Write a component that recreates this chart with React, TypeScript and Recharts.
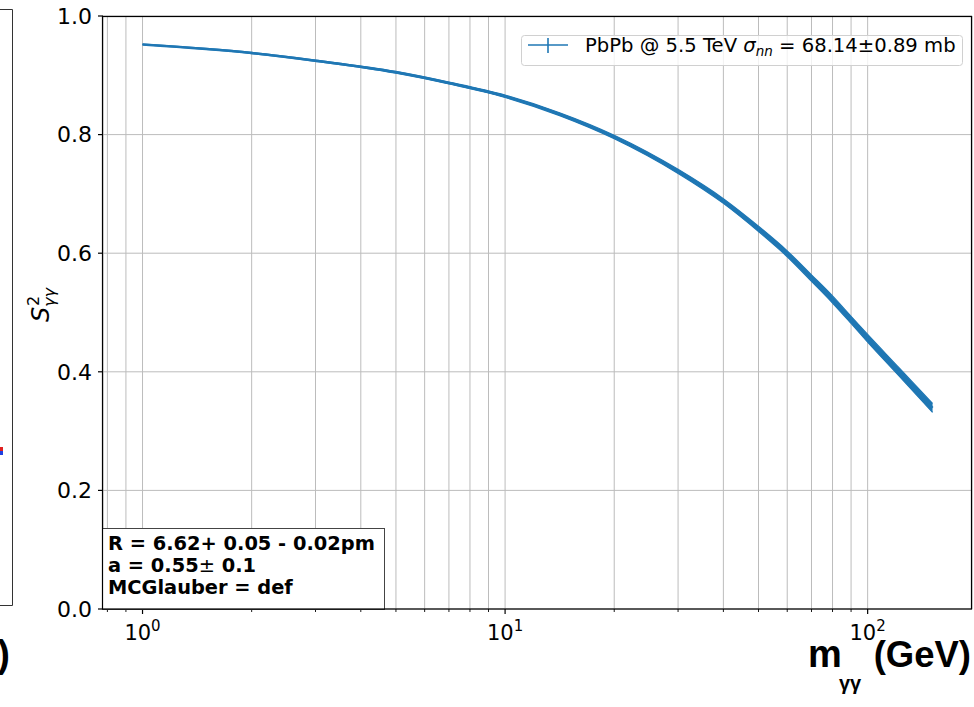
import React from "react";
import { ComposedChart, Area, Line, XAxis, YAxis, CartesianGrid } from "recharts";

// m_γγ (GeV) and the survival factor S²_γγ
const massGeV = [1, 2, 3, 5, 7, 10, 14.2, 20, 30, 40, 50, 60, 70, 80, 90, 100, 122, 151];
const survival = [0.952, 0.9376, 0.9246, 0.905, 0.887, 0.8646, 0.834, 0.796, 0.738, 0.688, 0.641, 0.599, 0.558, 0.522, 0.4875, 0.4565, 0.4, 0.339];
const spread = [0.0005, 0.001, 0.001, 0.0015, 0.0015, 0.002, 0.0025, 0.003, 0.0035, 0.004, 0.0045, 0.005, 0.0055, 0.006, 0.006, 0.0065, 0.007, 0.0075];

const xTicks = [0.8, 0.9, 1, 2, 3, 4, 5, 6, 7, 8, 9, 10, 20, 30, 40, 50, 60, 70, 80, 90, 100];
const xMajor = [1, 10, 100];
const yTicks = [0, 0.2, 0.4, 0.6, 0.8, 1.0];

const legendLabel = "PbPb @ 5.5 TeV ";
const boxLines = ["R = 6.62+ 0.05 - 0.02pm", "a = 0.55", "MCGlauber = def"];

const data = massGeV.map((m, i) => ({
  m,
  s2: survival[i],
  band: [survival[i] - spread[i], survival[i] + spread[i]],
}));

const BLUE = "#1f77b4";
const MPL = "DejaVu Sans, sans-serif";

function LogTick(props: any) {
  const { x, y, payload } = props;
  const v = payload.value;
  const major = xMajor.includes(v);
  return (
    <g>
      <line x1={x} x2={x} y1={y} y2={y + (major ? 5 : 3)} stroke="#000" strokeWidth={major ? 1.2 : 0.9} />
      {major && (
        <text x={x} y={y + 31} textAnchor="middle" fontFamily={MPL} fontSize={21} fill="#000">
          10
          <tspan dy={-9} fontSize={15}>
            {Math.round(Math.log10(v))}
          </tspan>
        </text>
      )}
    </g>
  );
}

function Overlay() {
  return (
    <svg
      width={974}
      height={707}
      style={{ position: "absolute", left: 0, top: 0, pointerEvents: "none" }}
    >
      {/* edge of the neighbouring panel, cut off on the left */}
      <line x1={0} x2={12.5} y1={9.5} y2={9.5} stroke="#333" />
      <line x1={12.5} x2={12.5} y1={9.5} y2={605.5} stroke="#333" />
      <line x1={0} x2={12.5} y1={605.5} y2={605.5} stroke="#333" />
      <rect x={0} y={447} width={3} height={4} fill="#e02020" />
      <rect x={0} y={451} width={3} height={4} fill="#2040e0" />
      <text x={10} y={667} textAnchor="end" fontFamily="Liberation Sans, Arial" fontWeight="bold" fontSize={38} fill="#000">
        )
      </text>

      {/* annotation box */}
      <rect x={102.5} y={528.5} width={282} height={81} fill="#fff" stroke="#444" strokeWidth={1} />
      <g fontFamily={MPL} fontWeight="bold" fontSize={19.4} fill="#000">
        <text x={108} y={550}>{boxLines[0]}</text>
        <text x={108} y={572}>
          {boxLines[1]}
          <tspan fontWeight="normal">±</tspan> 0.1
        </text>
        <text x={108} y={594}>{boxLines[2]}</text>
      </g>

      {/* legend */}
      <rect x={521.5} y={35.5} width={441} height={30} rx={3} fill="#fff" fillOpacity={0.8} stroke="#d0d0d0" />
      <line x1={528} x2={568} y1={45} y2={45} stroke={BLUE} strokeWidth={1.6} />
      <line x1={548} x2={548} y1={38} y2={53} stroke={BLUE} strokeWidth={1.6} />
      <text x={585} y={52} fontFamily={MPL} fontSize={19.6} fill="#000">
        {legendLabel}
        <tspan fontStyle="italic">σ</tspan>
        <tspan fontStyle="italic" fontSize={13.5} dy={4}>nn</tspan>
        <tspan dy={-4}> = 68.14±0.89 mb</tspan>
      </text>

      {/* frame */}
      <rect x={102.5} y={16.5} width={869} height={592.5} fill="none" stroke="#000" strokeWidth={1.2} />

      {/* y label */}
      <g transform="translate(41,300) rotate(-90)" fontFamily={MPL} fill="#000">
        <text x={-22} y={8} fontSize={24} fontStyle="italic">S</text>
        <text x={-6} y={-2} fontSize={16}>2</text>
        <text x={-7} y={14} fontSize={16} fontStyle="italic">γγ</text>
      </g>

      {/* x label */}
      <g fontFamily="Liberation Sans, Arial, sans-serif" fontWeight="bold" fill="#000">
        <text x={808} y={667} fontSize={38}>m</text>
        <text x={839} y={690} fontSize={20}>γγ</text>
        <text x={971} y={667} fontSize={36.5} textAnchor="end">(GeV)</text>
      </g>
    </svg>
  );
}

export default function App() {
  return (
    <div style={{ position: "absolute", left: 0, top: 0, width: 974, height: 707, background: "#fff" }}>
      <ComposedChart width={974} height={707} data={data} margin={{ top: 16, right: 2, left: 0, bottom: 0 }}>
        <CartesianGrid stroke="#bcbcbc" strokeWidth={1} />
        <XAxis
          dataKey="m"
          type="number"
          scale="log"
          domain={[0.778, 194]}
          allowDataOverflow
          ticks={xTicks}
          interval={0}
          height={98}
          axisLine={false}
          tickLine={false}
          tickSize={0}
          tickMargin={0}
          tick={<LogTick />}
        />
        <YAxis
          type="number"
          domain={[0, 1]}
          ticks={yTicks}
          width={103}
          axisLine={false}
          tickSize={5}
          tickMargin={6}
          tickLine={{ stroke: "#000", strokeWidth: 1.2 }}
          tickFormatter={(v: number) => v.toFixed(1)}
          tick={{ fontFamily: MPL, fontSize: 22, fill: "#000" }}
        />
        <Area
          dataKey="band"
          type="monotone"
          stroke={BLUE}
          strokeWidth={1.2}
          fill={BLUE}
          fillOpacity={1}
          isAnimationActive={false}
        />
        <Line
          dataKey="s2"
          type="monotone"
          stroke={BLUE}
          strokeWidth={2.6}
          dot={false}
          isAnimationActive={false}
        />
      </ComposedChart>
      <Overlay />
    </div>
  );
}
